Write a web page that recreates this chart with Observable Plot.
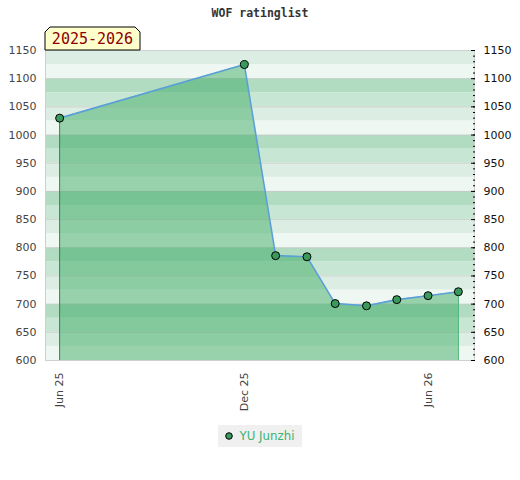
<!DOCTYPE html>
<html>
<head>
<meta charset="utf-8">
<script src="https://cdn.jsdelivr.net/npm/d3@7"></script>
<script src="https://cdn.jsdelivr.net/npm/@observablehq/plot@0.6"></script>
<style>
  body { margin: 0; background: #fff; font-family: "DejaVu Sans", sans-serif; }
  #wrap { width: 520px; }
  #title { height: 26px; line-height: 26px; text-align: center; font-family: "DejaVu Sans Mono", monospace; font-weight: bold; font-size: 11.5px; color: #333; }
  #legend { display: flex; justify-content: center; margin-top: 5px; }
  #legend .box { background: #f0f0f0; height: 22px; display: flex; align-items: center; padding: 0 8px 0 7px; font-size: 11.8px; color: #3cb371; }
  #legend svg { margin-right: 7px; }
</style>
</head>
<body>
<div id="wrap">
  <div id="title">WOF ratinglist</div>
  <div id="chart"></div>
  <div id="legend"></div>
</div>
<script>
const seasonLabel = "2025-2026";
const playerName = "YU Junzhi";
const dates = ["2025-06-01","2025-12-01","2026-01-01","2026-02-01","2026-03-01","2026-04-01","2026-05-01","2026-06-01","2026-07-01"];
const ratings = [1030, 1125, 786, 784, 701, 697, 708, 715, 722];
const xTicks = ["2025-06-01","2025-12-01","2026-06-01"];
const xDomain = ["2025-05-18","2026-07-17"];
const yDomain = [600, 1150];

const data = dates.map((d, i) => ({date: new Date(d), rating: ratings[i]}));
const bandColors = ["#eef7f2", "#dceee3", "#c8e6d4", "#b2dcc2"];
const bands = d3.range(yDomain[0], yDomain[1], 25).map((v, i) => ({y1: v, y2: v + 25, c: bandColors[i % 4]}));
const first = data[0], last = data[data.length - 1];
const fmt = d3.utcFormat("%b %y");
const yfmt = d3.format("d");

const plot = Plot.plot({
  width: 520,
  height: 394,
  marginTop: 24,
  marginBottom: 60,
  marginLeft: 45,
  marginRight: 46,
  style: {fontFamily: "DejaVu Sans", fontSize: "11px", background: "transparent"},
  x: {type: "utc", domain: xDomain.map(d => new Date(d))},
  y: {domain: yDomain},
  marks: [
    Plot.rectY(bands, {y1: "y1", y2: "y2", fill: "c"}),
    Plot.ruleY(d3.range(yDomain[0], yDomain[1] + 1, 50), {stroke: "#c8c8c8", strokeOpacity: 0.7}),
    Plot.areaY(data, {x: "date", y1: yDomain[0], y2: "rating", fill: "rgb(54,168,94)", fillOpacity: 0.47}),
    Plot.ruleX([first], {x: "date", y1: yDomain[0], y2: "rating", stroke: "#2e8b57"}),
    Plot.ruleX([last], {x: "date", y1: yDomain[0], y2: "rating", stroke: "#3cb371"}),
    Plot.line(data, {x: "date", y: "rating", stroke: "#5b9fd8", strokeWidth: 1.6}),
    Plot.dot(data, {x: "date", y: "rating", r: 4, fill: "#3a9a5c", stroke: "#000", strokeWidth: 1}),
    Plot.frame({stroke: "#cfcfcf"}),
    Plot.axisY({anchor: "left", ticks: d3.range(yDomain[0], yDomain[1] + 1, 50), tickFormat: yfmt, tickSize: 0, tickPadding: 9, color: "#444", label: null}),
    Plot.axisY({anchor: "right", ticks: d3.range(yDomain[0], yDomain[1] + 1, 50), tickFormat: yfmt, tickSize: 0, tickPadding: 9, color: "#111", label: null}),
    Plot.axisY({anchor: "right", ticks: d3.range(yDomain[0], yDomain[1] + 1, 10), tickSize: 2, insetRight: 2, text: null, stroke: "#000", label: null}),
    Plot.axisY({anchor: "right", ticks: d3.range(yDomain[0], yDomain[1] + 1, 50), tickSize: 4, insetRight: 4, text: null, stroke: "#000", label: null}),
    Plot.axisX({ticks: xTicks.map(d => new Date(d)), tickFormat: fmt, tickRotate: -90, tickSize: 0, tickPadding: 12, color: "#444", label: null})
  ]
});
document.getElementById("chart").appendChild(plot);

// season tag box above the plot frame
const svg = d3.select(plot);
const bx = 45, by = 1, bw = 95, bh = 23, ch = 5;
const g = svg.append("g");
g.append("path")
  .attr("d", `M${bx},${by + bh} V${by + ch} L${bx + ch},${by} H${bx + bw - ch} L${bx + bw},${by + ch} V${by + bh} Z`)
  .attr("fill", "#ffffcc").attr("stroke", "#000").attr("stroke-width", 1);
g.append("text")
  .attr("x", bx + bw / 2).attr("y", by + bh / 2 + 1).attr("text-anchor", "middle").attr("dominant-baseline", "middle")
  .attr("font-family", "DejaVu Sans Mono, monospace").attr("font-size", 15).attr("fill", "#8b0000")
  .text(seasonLabel);

// legend
const lg = document.createElement("div");
lg.className = "box";
lg.innerHTML = `<svg width="8" height="8"><circle cx="4" cy="4" r="3.3" fill="#3a9a5c" stroke="#000" stroke-width="1"/></svg><span>${playerName}</span>`;
document.getElementById("legend").appendChild(lg);
</script>
</body>
</html>
